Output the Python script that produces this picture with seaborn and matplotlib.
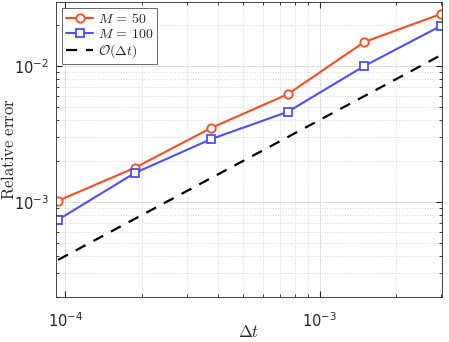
import numpy as np
import pandas as pd
import matplotlib
matplotlib.use("Agg")
import matplotlib.pyplot as plt
from matplotlib.ticker import FuncFormatter
import seaborn as sns

# --- data ---
dt = [9.375e-5, 1.875e-4, 3.75e-4, 7.5e-4, 1.5e-3, 3e-3]
err_m50 = [1.02e-3, 1.78e-3, 3.5e-3, 6.2e-3, 1.5e-2, 2.41e-2]
err_m100 = [7.4e-4, 1.63e-3, 2.9e-3, 4.6e-3, 1.0e-2, 1.97e-2]
ref_order1 = [3.75e-4, 7.5e-4, 1.5e-3, 3.0e-3, 6.0e-3, 1.2e-2]

df = pd.DataFrame({
    "dt": dt * 2,
    "err": err_m50 + err_m100,
    "case": [r"$M\,=\,50$"] * len(dt) + [r"$M\,=\,100$"] * len(dt),
})

sns.set_style("ticks")
plt.rcParams["mathtext.fontset"] = "cm"
plt.rcParams["font.family"] = ["Liberation Sans", "DejaVu Sans"]

fig = plt.figure(figsize=(4.49, 3.42), dpi=100)
ax = fig.add_axes([0.1247, 0.1316, 0.8597, 0.8624])

cases = df["case"].unique()
colors = dict(zip(cases, ["#ff4a1c", "#4d4dff"]))
markers = dict(zip(cases, ["o", "s"]))
sns.lineplot(data=df, x="dt", y="err", hue="case", style="case",
             palette=colors, markers=markers, dashes=False, ax=ax,
             linewidth=1.5, markersize=6, markerfacecolor="white",
             markeredgewidth=1.3)
for line in ax.lines:
    line.set_markeredgecolor(line.get_color())
sns.lineplot(x=dt, y=ref_order1, ax=ax, color="black", linestyle=(0, (5, 4)),
             linewidth=1.6, label=r"$\mathcal{O}(\Delta t)$")

ax.set_xscale("log")
ax.set_yscale("log")
ax.set_xlim(9.2e-5, 3.03e-3)
ax.set_ylim(2.0e-4, 2.95e-2)


def pow_label(v, pos):
    e = int(round(np.log10(v)))
    return r"$10^{%d}$" % e


ax.xaxis.set_major_formatter(FuncFormatter(pow_label))
ax.yaxis.set_major_formatter(FuncFormatter(pow_label))

ax.grid(True, which="major", color="#e0e0e0", linewidth=0.7)
ax.grid(True, which="minor", color="#d8d8d8", linestyle=":", linewidth=0.7)
for s in ax.spines.values():
    s.set_color("#262626")
    s.set_linewidth(0.6)
ax.tick_params(which="both", direction="in", top=True, right=True,
               labelsize=10.5, colors="#262626")
ax.tick_params(which="major", length=4)
ax.tick_params(which="minor", length=2)
ax.tick_params(axis="x", pad=10)
ax.tick_params(axis="y", pad=5)

ax.set_xlabel(r"$\Delta t$", fontsize=12)
ax.set_ylabel(r"$\mathrm{Relative\ error}$", fontsize=12)
ax.xaxis.set_label_coords(0.5, -0.092)
ax.yaxis.set_label_coords(-0.102, 0.5)

fig.canvas.draw()
for lab in ax.get_xticklabels() + ax.get_yticklabels():
    lab.set_math_fontfamily("dejavusans")

leg = ax.legend(loc="upper left", fontsize=10, frameon=True, fancybox=False,
                handlelength=2.0, borderpad=0.25, labelspacing=0.1,
                handletextpad=0.35, borderaxespad=0.45)
leg.get_frame().set_edgecolor("#262626")
leg.get_frame().set_linewidth(0.6)

fig.savefig("out.png", dpi=100)
